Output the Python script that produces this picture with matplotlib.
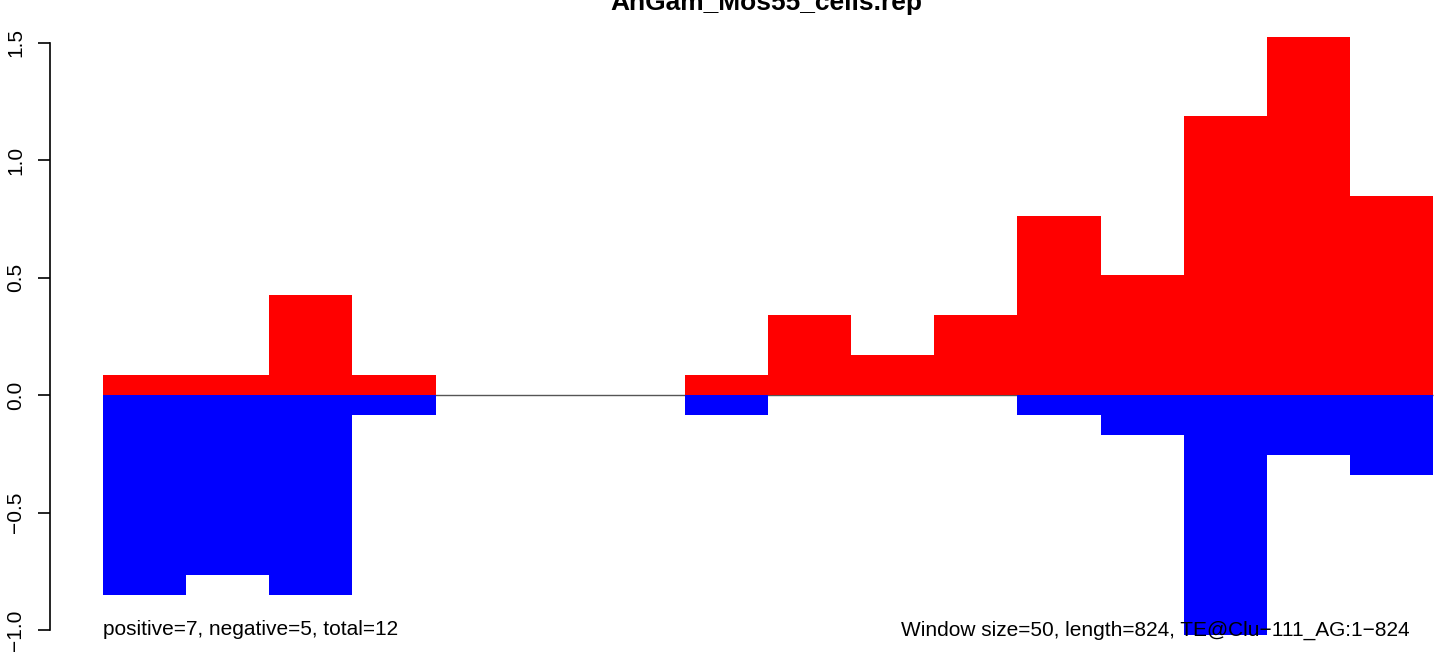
import matplotlib
matplotlib.use('Agg')
import matplotlib.pyplot as plt

plt.rcParams['font.family'] = ['Liberation Sans', 'DejaVu Sans']

# Window start positions (bp), window size 50
window_size = 50
starts = [0, 50, 100, 150, 200, 250, 300, 350, 400, 450, 500, 550, 600, 650, 700, 750]
# Positive / negative strand scores per window
pos_vals = [0.085, 0.085, 0.425, 0.085, 0, 0, 0, 0.085, 0.34, 0.17, 0.34, 0.765, 0.51, 1.19, 1.525, 0.85]
neg_vals = [-0.85, -0.765, -0.85, -0.085, 0, 0, 0, -0.085, 0, 0, 0, -0.085, -0.17, -1.02, -0.255, -0.34]
yticks = [-1.0, -0.5, 0.0, 0.5, 1.0, 1.5]

title = 'AnGam_Mos55_cells.rep'
left_note = 'positive=7, negative=5, total=12'
right_note = 'Window size=50, length=824, TE@Clu\u2212111_AG:1\u2212824'

W, H = 1444, 656
fig = plt.figure(figsize=(W / 100, H / 100), dpi=100)
ax = fig.add_axes([50 / W, 0, (W - 50) / W, 1])

# zero line under the bars, only across the windows
ax.hlines(0, starts[0], starts[-1] + window_size, color='#555555', lw=1, zorder=0)
ax.bar(starts, pos_vals, width=window_size, align='edge', color='#ff0000', linewidth=0, zorder=2)
ax.bar(starts, neg_vals, width=window_size, align='edge', color='#0000ff', linewidth=0, zorder=2)

ax.set_xlim(-31.9, 806.6)
ax.set_ylim(-1.111, 1.683)

for s in ['top', 'right', 'bottom']:
    ax.spines[s].set_visible(False)
ax.spines['left'].set_bounds(-1.0, 1.5)
ax.spines['left'].set_linewidth(1.2)
ax.set_xticks([])
ax.set_yticks(yticks)
ax.set_yticklabels(['\u22121.0', '\u22120.5', '0.0', '0.5', '1.0', '1.5'],
                   rotation=90, va='center', fontsize=15)
ax.tick_params(axis='y', length=9, width=1.2, pad=9)

ax.text(0, -1.0, left_note, ha='left', va='center', fontsize=15)
ax.text(786, -1.0, right_note, ha='right', va='center', fontsize=15)

fig.text(766 / W, 1 - 10 / H, title, ha='center', va='baseline',
         fontsize=19, fontweight='bold')

fig.savefig('out.png', dpi=100)
